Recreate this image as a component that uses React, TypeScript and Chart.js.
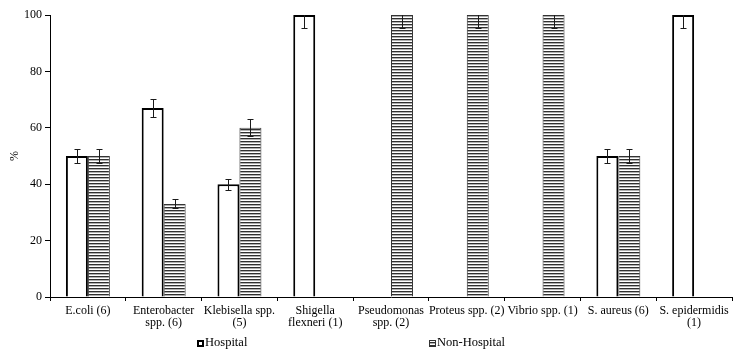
import React, { useEffect, useRef } from "react";
import { Chart, registerables } from "chart.js";

Chart.register(...registerables);

const categories: string[][] = [
  ["E.coli (6)"],
  ["Enterobacter", "spp. (6)"],
  ["Klebisella spp.", "(5)"],
  ["Shigella", "flexneri (1)"],
  ["Pseudomonas", "spp. (2)"],
  ["Proteus spp. (2)"],
  ["Vibrio spp. (1)"],
  ["S. aureus (6)"],
  ["S. epidermidis", "(1)"],
];

const hospital: (number | null)[] = [50, 67, 40, 100, null, null, null, 50, 100];
const nonHospital: (number | null)[] = [50, 33, 60, null, 100, 100, 100, 50, null];
const hospitalErr: number[] = [2.5, 3.2, 1.9, 4.7, 0, 0, 0, 2.5, 4.7];
const nonHospitalErr: number[] = [2.5, 1.6, 3, 0, 4.7, 4.7, 4.7, 2.5, 0];

const yTicks = { min: 0, max: 100, step: 20 };
const FONT = "'Liberation Serif', 'Times New Roman', serif";

function makeHatch(): CanvasPattern | string {
  const c = document.createElement("canvas");
  c.width = 8;
  c.height = 3;
  const g = c.getContext("2d");
  if (!g) return "#888";
  g.fillStyle = "#ffffff";
  g.fillRect(0, 0, 8, 3);
  g.fillStyle = "#303030";
  g.fillRect(0, 0, 8, 1);
  g.fillStyle = "#b0b0b0";
  g.fillRect(0, 1, 8, 1);
  const p = g.createPattern(c, "repeat");
  return p || "#888";
}

const errorBarPlugin = {
  id: "errorBars",
  afterDatasetsDraw(chart: any) {
    const { ctx, chartArea } = chart;
    const yScale = chart.scales.y;
    ctx.save();
    ctx.beginPath();
    ctx.rect(chartArea.left, chartArea.top, chartArea.right - chartArea.left, chartArea.bottom - chartArea.top);
    ctx.clip();
    ctx.strokeStyle = "#1a1a1a";
    ctx.lineWidth = 1;
    chart.data.datasets.forEach((ds: any, i: number) => {
      const meta = chart.getDatasetMeta(i);
      const errs: number[] = ds.errors || [];
      meta.data.forEach((el: any, j: number) => {
        const v = ds.data[j];
        const e = errs[j];
        if (v == null || !e) return;
        const x = Math.round(el.x) + 0.5;
        const yT = Math.round(yScale.getPixelForValue(v + e)) + 0.5;
        const yB = Math.round(yScale.getPixelForValue(v - e)) + 0.5;
        const cap = 3;
        ctx.beginPath();
        ctx.moveTo(x, yT);
        ctx.lineTo(x, yB);
        ctx.moveTo(x - cap, yT);
        ctx.lineTo(x + cap, yT);
        ctx.moveTo(x - cap, yB);
        ctx.lineTo(x + cap, yB);
        ctx.stroke();
      });
    });
    ctx.restore();
  },
};

const legendPlugin = {
  id: "bottomLegend",
  afterDraw(chart: any) {
    const { ctx, width, height } = chart;
    const positions = [0.268, 0.583];
    const yc = height - 11;
    ctx.save();
    ctx.font = `12.5px ${FONT}`;
    ctx.textBaseline = "middle";
    ctx.textAlign = "left";
    chart.data.datasets.forEach((ds: any, i: number) => {
      const x = Math.round(width * positions[i]);
      const size = 7;
      const top = Math.round(yc - size / 2);
      ctx.fillStyle = ds.backgroundColor;
      ctx.fillRect(x, top, size, size);
      ctx.strokeStyle = ds.borderColor;
      ctx.lineWidth = i === 0 ? 2 : 1;
      if (i === 0) ctx.strokeRect(x + 1, top + 1, size - 2, size - 2);
      else ctx.strokeRect(x + 0.5, top + 0.5, size - 1, size - 1);
      ctx.fillStyle = "#000";
      ctx.fillText(ds.label, x + size + 1, yc);
    });
    ctx.restore();
  },
};

export default function App() {
  const ref = useRef<HTMLCanvasElement | null>(null);

  useEffect(() => {
    if (!ref.current) return;
    const hatch = makeHatch();
    const chart = new Chart(ref.current, {
      type: "bar",
      data: {
        labels: categories,
        datasets: [
          {
            label: "Hospital",
            data: hospital,
            errors: hospitalErr,
            backgroundColor: "#ffffff",
            borderColor: "#000000",
            borderWidth: 2,
          } as any,
          {
            label: "Non-Hospital",
            data: nonHospital,
            errors: nonHospitalErr,
            backgroundColor: hatch,
            borderColor: "#333333",
            borderWidth: 1,
          } as any,
        ],
      },
      options: {
        responsive: false,
        animation: false,
        devicePixelRatio: 1,
        layout: { padding: { top: 15, left: 0, right: 3, bottom: 21 } },
        datasets: {
          bar: { categoryPercentage: 0.58, barPercentage: 1 },
        },
        plugins: {
          legend: { display: false },
          tooltip: { enabled: false },
        },
        scales: {
          x: {
            grid: {
              display: true,
              drawOnChartArea: false,
              drawTicks: true,
              tickLength: 4,
              offset: true,
              color: "#000",
            },
            border: { color: "#000", width: 1 },
            ticks: {
              color: "#000",
              font: { family: FONT, size: 12, lineHeight: 1 },
              padding: 4,
              maxRotation: 0,
              autoSkip: false,
            },
          },
          y: {
            min: yTicks.min,
            max: yTicks.max,
            grid: {
              display: true,
              drawOnChartArea: false,
              drawTicks: true,
              tickLength: 5,
              color: "#000",
            },
            border: { color: "#000", width: 1 },
            ticks: {
              stepSize: yTicks.step,
              color: "#000",
              font: { family: FONT, size: 12 },
              padding: 3,
            },
            title: {
              display: true,
              text: "%",
              color: "#000",
              font: { family: FONT, size: 12 },
              padding: { top: 8, bottom: 0 },
            },
            afterFit(scale: any) {
              scale.width = 50;
            },
          },
        },
      },
      plugins: [errorBarPlugin, legendPlugin],
    });
    return () => chart.destroy();
  }, []);

  return (
    <div style={{ position: "fixed", left: 0, top: 0, width: 735, height: 354, background: "#fff" }}>
      <canvas ref={ref} width={735} height={354} />
    </div>
  );
}
